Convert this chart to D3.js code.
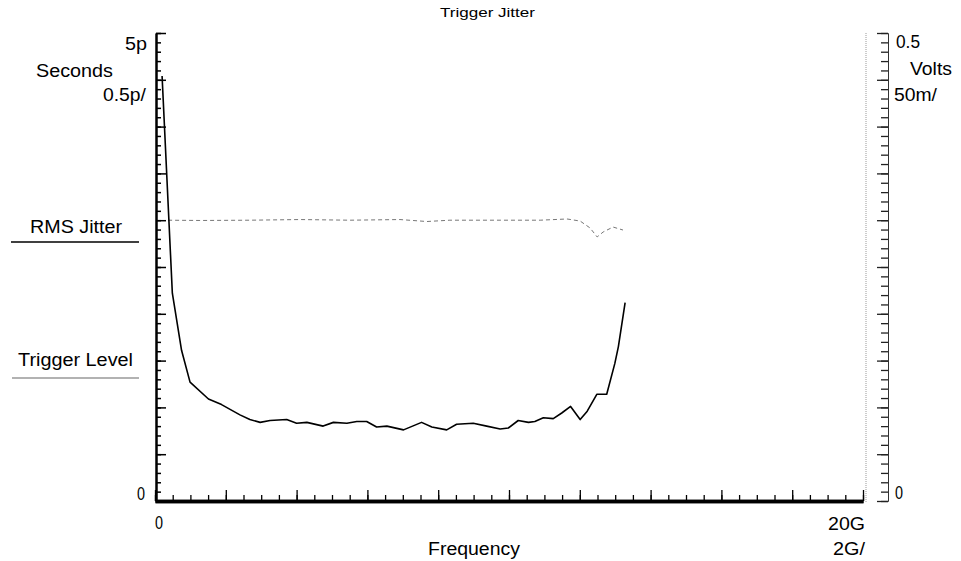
<!DOCTYPE html>
<html>
<head>
<meta charset="utf-8">
<script src="https://cdn.jsdelivr.net/npm/d3@7"></script>
<style>
  html, body { margin: 0; padding: 0; background: #fff; }
  svg { display: block; }
  text { font-family: "Liberation Sans", Arial, Helvetica, sans-serif; fill: #000; }
</style>
</head>
<body>
<svg id="chart" width="961" height="561"></svg>
<script>
// ---- Data ----
const chartTitle = "Trigger Jitter";
// RMS Jitter series: frequency (GHz) and jitter (ps)
const jitterFreq = [0.20, 0.49, 0.75, 0.99, 1.51, 1.88, 2.40, 2.68, 2.97, 3.25, 3.72, 4.00, 4.29, 4.75, 5.04, 5.42, 5.70, 5.98, 6.26, 6.55, 7.02, 7.53, 7.82, 8.24, 8.52, 8.99, 9.37, 9.75, 9.98, 10.26, 10.55, 10.73, 10.97, 11.25, 11.49, 11.74, 12.01, 12.21, 12.48, 12.76, 12.99, 13.09, 13.28];
const jitterPs   = [4.54, 2.22, 1.61, 1.27, 1.09, 1.03, 0.92, 0.87, 0.84, 0.86, 0.87, 0.83, 0.84, 0.80, 0.84, 0.83, 0.85, 0.85, 0.79, 0.80, 0.76, 0.84, 0.79, 0.76, 0.82, 0.83, 0.80, 0.77, 0.78, 0.86, 0.84, 0.85, 0.89, 0.88, 0.94, 1.01, 0.87, 0.96, 1.14, 1.14, 1.47, 1.65, 2.12];
// Trigger Level series: frequency (GHz) and volts
const trigFreq  = [0.37, 1.27, 2.68, 4.10, 5.51, 6.92, 7.68, 8.33, 9.75, 10.88, 11.64, 12.01, 12.29, 12.49, 12.66, 12.94, 13.22];
const trigVolts = [0.300, 0.2997, 0.300, 0.3007, 0.300, 0.3007, 0.2986, 0.300, 0.300, 0.300, 0.3013, 0.2991, 0.2917, 0.2821, 0.2874, 0.2927, 0.2895];
// Axis ranges / tick settings
const freqDomain = [0, 20];      // GHz, 2G/div
const secDomain = [0, 5];        // ps, 0.5p/div
const voltDomain = [0, 0.5];     // V, 50m/div
const freqMajor = d3.range(0, 20.001, 2);
const freqMinor = d3.range(0, 20.001, 0.5);
const secMajor = d3.range(0, 5.001, 0.5);
const secMinor = d3.range(0, 5.001, 0.1);
const voltMajor = d3.range(0, 0.5001, 0.05);
const voltMinor = d3.range(0, 0.5001, 0.01);
const legendLabels = ["RMS Jitter", "Trigger Level"];

// ---- Layout ----
const svg = d3.select("#chart");
const X0 = 155, X1 = 863, YB = 501, YT = 33;
const x = d3.scaleLinear().domain(freqDomain).range([X0, X1]);
const yS = d3.scaleLinear().domain(secDomain).range([YB, YT]);
const yV = d3.scaleLinear().domain(voltDomain).range([YB, YT]);

function txt(str, xp, yp, size, len, anchor) {
  const t = svg.append("text").attr("x", xp).attr("y", yp)
    .style("font-size", size + "px").text(str);
  if (anchor) t.attr("text-anchor", anchor);
  if (len) t.attr("textLength", len).attr("lengthAdjust", "spacingAndGlyphs");
  return t;
}

// Right frame (dotted grey)
svg.append("line").attr("x1", 866).attr("x2", 866).attr("y1", YT).attr("y2", YB + 2)
  .attr("stroke", "#999").attr("stroke-width", 1).attr("stroke-dasharray", "1,1");

// Left axis (seconds): ticks pointing inward
const gL = svg.append("g").attr("transform", `translate(${X0 + 1},0)`);
gL.call(d3.axisRight(yS).tickValues(secMinor).tickSize(5).tickSizeOuter(0).tickFormat(""));
gL.call(g => g.append("g").call(d3.axisRight(yS).tickValues(secMajor).tickSize(10).tickSizeOuter(0).tickFormat("")));
gL.selectAll("path").attr("stroke", "#000").attr("stroke-width", 2);
gL.selectAll("line").attr("stroke", "#000").attr("stroke-width", 1.5);

// Right axis (volts): ticks pointing left
const gR = svg.append("g").attr("transform", `translate(888,0)`);
gR.call(d3.axisLeft(yV).tickValues(voltMinor).tickSize(7).tickSizeOuter(0).tickFormat(""));
gR.call(g => g.append("g").call(d3.axisLeft(yV).tickValues(voltMajor).tickSize(11).tickSizeOuter(0).tickFormat("")));
gR.selectAll("path").attr("stroke", "#333").attr("stroke-width", 1);
gR.selectAll("line").attr("stroke", "#222").attr("stroke-width", 1.3);

// Bottom axis (frequency): ticks pointing up
const gB = svg.append("g").attr("transform", `translate(0,${YB})`);
gB.call(d3.axisTop(x).tickValues(freqMinor).tickSize(6).tickSizeOuter(0).tickFormat(""));
gB.call(g => g.append("g").call(d3.axisTop(x).tickValues(freqMajor).tickSize(11).tickSizeOuter(0).tickFormat("")));
gB.selectAll("path").attr("stroke", "#000").attr("stroke-width", 3.5);
gB.selectAll("line").attr("stroke", "#000").attr("stroke-width", 1.3);

// Trigger level (dashed grey)
const trigData = trigFreq.map((f, i) => [f, trigVolts[i]]);
svg.append("path").datum(trigData)
  .attr("d", d3.line().x(d => x(d[0])).y(d => yV(d[1])))
  .attr("fill", "none").attr("stroke", "#777").attr("stroke-width", 1)
  .attr("stroke-dasharray", "4,3");

// RMS jitter (black)
const jitData = jitterFreq.map((f, i) => [f, jitterPs[i]]);
svg.append("path").datum(jitData)
  .attr("d", d3.line().x(d => x(d[0])).y(d => yS(d[1])))
  .attr("fill", "none").attr("stroke", "#000").attr("stroke-width", 1.6)
  .attr("stroke-linejoin", "round");

// Title
txt(chartTitle, 440, 17, 13, 95);

// Left axis labels
txt("5p", 125, 50, 18, 22);
txt("Seconds", 36, 77, 18, 77);
txt("0.5p/", 103, 101, 18, 43);
txt("0", 137, 500, 18, 8);

// Right axis labels
txt("0.5", 896, 48, 18, 24);
txt("Volts", 910, 75, 18, 42);
txt("50m/", 894, 101, 18, 43);
txt("0", 895, 499, 18, 8);

// Bottom axis labels
txt("0", 155, 529, 18, 8);
txt("Frequency", 428, 555, 18, 92);
txt("20G", 828, 530, 18, 37);
txt("2G/", 833, 555, 18, 32);

// Legend
txt(legendLabels[0], 30, 233, 18, 92);
svg.append("line").attr("x1", 11).attr("x2", 139).attr("y1", 242).attr("y2", 242)
  .attr("stroke", "#000").attr("stroke-width", 1.6);
txt(legendLabels[1], 18, 366, 18, 115);
svg.append("line").attr("x1", 12).attr("x2", 139).attr("y1", 378).attr("y2", 378)
  .attr("stroke", "#999").attr("stroke-width", 1.6);
</script>
</body>
</html>
